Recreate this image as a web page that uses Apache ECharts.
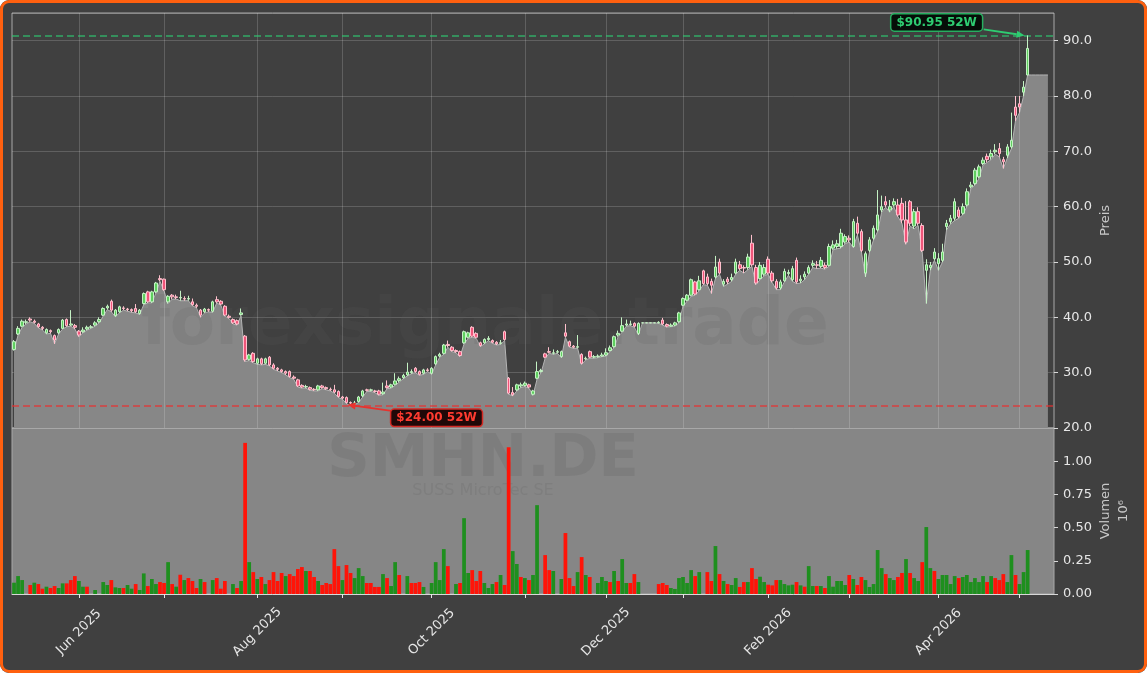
<!DOCTYPE html>
<html>
<head>
<meta charset="utf-8">
<title>SMHN.DE</title>
<script src="https://cdn.jsdelivr.net/npm/echarts@6/dist/echarts.min.js"></script>
<style>
  html, body { margin: 0; padding: 0; background: #ffffff; }
  #wrap { position: relative; width: 1147px; height: 673px; background: #404040; border-radius: 9px; overflow: hidden; }
  #main { position: absolute; left: 0; top: 0; width: 1147px; height: 673px; }
  #frame { position: absolute; left: 0; top: 0; width: 1147px; height: 673px; box-sizing: border-box;
           border: 3px solid #ff600f; border-radius: 9px; pointer-events: none; }
</style>
</head>
<body>
<div id="wrap"><div id="main"></div><div id="frame"></div></div>
<script>
// daily candles, one per Xetra trading day from 9 May 2025
var opens = [
  34.2, 37.0, 38.4, 39.1, 39.7, 39.3, 38.8, 38.2, 37.2, 37.6,
  36.7, 37.2, 38.0, 39.6, 38.6, 38.5, 37.5, 37.4, 37.9, 38.2,
  38.6, 39.2, 40.4, 41.7, 42.9, 40.3, 41.0, 41.7, 41.5, 41.4,
  41.6, 40.7, 42.5, 44.6, 42.8, 44.6, 47.0, 46.9, 42.8, 44.0,
  43.7, 43.5, 43.4, 43.3, 42.8, 42.2, 41.3, 41.0, 41.4, 41.1,
  43.2, 42.9, 42.0, 40.2, 39.6, 39.4, 40.5, 36.6, 32.4, 33.5,
  31.7, 32.5, 31.7, 32.8, 31.4, 30.8, 30.5, 30.2, 30.2, 29.2,
  28.7, 27.7, 27.4, 27.3, 27.0, 26.9, 27.6, 27.3, 27.0, 26.9,
  26.6, 25.6, 25.5, 24.6, 24.5, 24.8, 25.8, 26.9, 26.8, 26.7,
  26.7, 26.2, 27.6, 27.4, 27.9, 28.6, 29.1, 29.6, 30.0, 30.8,
  30.2, 29.9, 30.5, 29.9, 31.6, 33.0, 33.5, 35.1, 34.6, 34.0,
  33.8, 35.4, 36.4, 38.2, 37.1, 35.4, 35.4, 36.0, 35.8, 35.5,
  35.3, 37.4, 29.0, 26.4, 26.9, 27.6, 27.7, 27.8, 26.1, 29.0,
  30.2, 33.4, 33.8, 33.5, 33.7, 32.9, 37.2, 35.6, 34.8, 34.6,
  33.3, 32.5, 33.8, 32.8, 32.9, 33.0, 33.2, 34.0, 34.7, 36.8,
  37.5, 38.6, 38.7, 38.9, 37.1, 39.0, 39.0, 39.0, 39.0, 39.0,
  39.5, 38.7, 38.4, 38.6, 39.2, 42.2, 43.1, 44.0, 46.4, 45.0,
  48.4, 47.3, 46.5, 47.3, 50.0, 46.0, 46.9, 46.8, 48.0, 49.5,
  49.0, 49.0, 53.4, 49.0, 47.0, 47.8, 50.5, 48.0, 46.5, 45.3,
  46.6, 47.9, 46.8, 50.3, 46.6, 47.3, 48.0, 49.4, 49.5, 49.2,
  49.4, 49.4, 52.5, 52.8, 52.8, 53.6, 54.3, 52.8, 57.0, 55.5,
  48.0, 52.1, 54.3, 55.8, 59.4, 60.9, 59.4, 60.3, 60.3, 60.6,
  57.6, 60.9, 56.5, 59.1, 56.6, 48.5, 49.0, 50.6, 49.7, 50.3,
  56.4, 57.3, 57.9, 59.4, 58.8, 60.3, 63.6, 64.2, 65.4, 67.8,
  69.1, 69.0, 69.9, 70.5, 68.5, 69.3, 70.8, 78.0, 78.6, 80.7,
  83.8
];
var closes = [
  35.6, 38.0, 39.3, 39.2, 39.5, 39.1, 38.3, 38.0, 37.8, 37.4,
  35.9, 37.8, 39.5, 38.5, 38.8, 38.2, 36.8, 37.7, 38.2, 38.3,
  39.0, 39.6, 41.6, 42.0, 41.3, 41.3, 41.9, 41.6, 41.4, 41.2,
  41.0, 41.3, 44.3, 42.8, 44.6, 46.2, 46.8, 45.0, 43.8, 43.7,
  43.6, 43.6, 43.3, 43.4, 42.3, 42.0, 40.4, 41.5, 41.3, 42.8,
  42.8, 42.4, 40.4, 40.0, 39.0, 38.8, 40.8, 32.3, 33.2, 32.0,
  32.5, 31.6, 32.5, 31.4, 30.8, 30.6, 30.2, 29.9, 29.3, 29.0,
  27.6, 27.4, 27.5, 27.0, 26.9, 27.6, 27.3, 27.1, 26.9, 26.5,
  25.7, 25.4, 24.6, 24.5, 24.5, 25.6, 26.7, 26.8, 26.9, 26.6,
  26.1, 26.5, 27.3, 27.8, 28.5, 28.9, 29.5, 30.1, 30.2, 30.2,
  29.7, 30.5, 30.4, 30.8, 32.9, 33.3, 35.0, 34.9, 34.0, 33.8,
  33.1, 37.4, 37.2, 36.6, 36.4, 34.9, 36.0, 36.2, 35.5, 35.2,
  35.4, 36.0, 26.3, 26.0, 27.8, 27.8, 28.1, 27.4, 26.7, 30.2,
  30.4, 32.8, 33.7, 33.6, 33.8, 33.8, 36.6, 34.8, 34.6, 34.7,
  31.7, 32.6, 32.8, 32.9, 33.0, 33.2, 33.6, 34.5, 36.5, 37.1,
  38.5, 38.8, 38.8, 38.4, 38.9, 39.0, 39.0, 39.0, 39.0, 39.1,
  38.8, 38.4, 38.6, 39.0, 40.8, 43.4, 44.0, 46.8, 44.2, 46.6,
  46.1, 46.1, 45.8, 49.1, 48.0, 46.5, 46.4, 47.2, 50.0, 48.8,
  48.9, 50.9, 49.5, 46.2, 49.4, 49.0, 48.0, 46.6, 45.3, 46.4,
  48.3, 48.1, 48.8, 46.4, 46.9, 47.8, 49.0, 49.7, 49.4, 50.3,
  49.0, 52.8, 53.1, 53.3, 55.2, 54.6, 54.0, 57.3, 55.2, 52.1,
  51.5, 54.0, 56.1, 58.5, 60.0, 60.3, 60.0, 60.9, 58.5, 57.6,
  53.6, 57.0, 59.1, 57.0, 52.1, 49.5, 49.4, 51.8, 50.6, 51.8,
  57.0, 57.9, 60.9, 58.2, 60.0, 62.7, 63.9, 66.6, 67.2, 68.4,
  68.5, 69.6, 70.2, 69.6, 68.1, 70.8, 72.0, 76.5, 78.0, 81.6,
  88.6
];
var highs = [
  35.9, 38.4, 39.6, 39.6, 40.0, 39.6, 39.0, 38.4, 38.0, 37.8,
  36.9, 38.0, 39.7, 39.8, 41.3, 38.8, 37.7, 38.2, 38.5, 38.6,
  39.3, 40.0, 41.8, 42.3, 43.2, 41.5, 42.1, 42.0, 41.7, 41.6,
  42.4, 41.5, 44.5, 44.8, 44.8, 46.4, 47.6, 47.0, 44.0, 44.2,
  44.1, 44.8, 43.8, 43.9, 43.4, 42.5, 41.5, 41.7, 41.6, 43.0,
  43.8, 43.1, 42.2, 40.5, 39.8, 39.6, 41.6, 36.8, 33.4, 33.7,
  32.7, 32.7, 32.7, 33.0, 31.7, 31.0, 30.7, 30.4, 30.4, 29.5,
  28.9, 27.9, 27.8, 27.5, 27.2, 27.8, 27.8, 27.5, 27.3, 27.8,
  26.8, 25.8, 25.7, 24.8, 24.9, 25.8, 26.9, 27.1, 27.1, 26.9,
  26.9, 28.2, 28.6, 28.0, 29.9, 29.3, 29.8, 31.8, 30.6, 31.0,
  30.4, 30.7, 30.8, 31.0, 33.1, 33.6, 35.2, 35.8, 34.8, 34.2,
  34.0, 37.6, 37.4, 38.4, 37.3, 35.6, 36.2, 36.6, 36.0, 35.7,
  35.9, 37.6, 29.2, 27.4, 28.0, 28.2, 28.4, 28.0, 26.9, 32.0,
  30.7, 33.6, 34.6, 34.2, 34.1, 34.0, 38.8, 35.8, 35.0, 36.8,
  33.5, 32.9, 34.0, 33.2, 33.3, 33.6, 34.4, 34.9, 36.7, 37.6,
  40.0, 39.6, 39.4, 39.1, 39.1, 39.0, 39.0, 39.0, 39.0, 39.3,
  39.9, 38.9, 38.9, 39.2, 41.0, 43.6, 44.2, 47.0, 46.6, 47.5,
  48.6, 47.9, 47.0, 51.1, 50.6, 46.9, 47.3, 47.9, 50.6, 50.2,
  49.4, 51.5, 54.9, 49.5, 50.0, 49.6, 51.0, 48.4, 46.9, 46.8,
  48.8, 48.6, 49.3, 50.8, 47.6, 48.3, 49.4, 50.3, 50.2, 50.9,
  49.9, 53.3, 53.9, 54.0, 56.0, 55.0, 54.8, 57.8, 58.2, 55.9,
  51.9, 54.5, 56.6, 63.0, 62.0, 61.9, 61.2, 61.5, 61.4, 61.6,
  61.0, 61.2, 59.6, 59.9, 57.0, 50.5, 50.0, 52.5, 51.6, 53.3,
  57.6, 58.5, 61.5, 59.9, 60.6, 63.3, 64.5, 67.0, 67.6, 68.9,
  69.6, 70.3, 71.3, 71.5, 69.0, 71.3, 77.0, 80.0, 80.0, 82.7,
  90.95
];
var lows = [
  34.0, 36.8, 38.2, 38.8, 39.2, 38.9, 38.1, 37.7, 37.0, 37.1,
  35.2, 37.0, 37.9, 38.3, 38.4, 37.9, 36.5, 37.2, 37.7, 38.0,
  38.4, 39.0, 40.2, 41.4, 41.0, 40.1, 40.8, 41.3, 41.1, 40.9,
  40.8, 40.5, 42.3, 42.6, 42.6, 44.4, 46.5, 44.8, 42.5, 43.3,
  43.3, 43.0, 43.0, 43.0, 42.1, 41.7, 40.0, 40.8, 41.0, 40.9,
  42.6, 42.2, 40.2, 39.8, 38.8, 38.6, 40.3, 32.0, 32.2, 31.8,
  31.5, 31.4, 31.5, 31.2, 30.6, 30.3, 30.0, 29.6, 29.1, 28.8,
  27.4, 27.2, 27.2, 26.8, 26.7, 26.7, 27.1, 26.9, 26.7, 26.3,
  25.5, 25.2, 24.4, 24.0, 24.2, 24.6, 25.6, 26.6, 26.6, 26.4,
  25.9, 26.0, 27.1, 27.2, 27.7, 28.3, 28.9, 29.4, 29.8, 30.0,
  29.5, 29.7, 30.2, 29.7, 31.4, 32.8, 33.3, 34.6, 33.8, 33.6,
  32.9, 35.2, 36.2, 36.4, 36.2, 34.7, 35.2, 35.8, 35.3, 35.0,
  35.1, 35.8, 26.1, 25.8, 26.7, 27.3, 27.5, 27.2, 25.9, 28.8,
  30.0, 32.6, 33.5, 33.3, 33.5, 32.7, 36.4, 34.6, 34.4, 34.4,
  31.5, 32.3, 32.6, 32.6, 32.7, 32.9, 33.0, 33.8, 34.5, 36.5,
  37.3, 38.4, 38.5, 38.2, 36.8, 39.0, 39.0, 39.0, 39.0, 38.9,
  38.6, 38.2, 38.3, 38.4, 39.0, 42.0, 42.9, 43.8, 44.0, 44.8,
  45.9, 45.8, 44.3, 47.0, 47.8, 45.6, 46.0, 46.5, 47.8, 48.5,
  48.0, 48.6, 49.2, 45.9, 46.8, 47.5, 47.8, 46.3, 45.0, 45.0,
  46.4, 47.6, 46.5, 46.1, 46.2, 46.8, 47.8, 49.0, 48.8, 48.9,
  48.7, 49.2, 52.2, 52.4, 52.5, 53.3, 53.6, 52.6, 54.9, 51.8,
  47.3, 51.8, 54.0, 55.5, 59.0, 59.9, 59.0, 60.0, 58.2, 57.0,
  53.2, 56.5, 56.0, 56.6, 51.8, 42.5, 48.5, 50.3, 48.5, 50.0,
  55.8, 56.9, 57.5, 57.9, 58.5, 60.0, 63.3, 63.9, 65.1, 67.5,
  68.0, 68.5, 69.5, 69.0, 66.9, 68.8, 70.5, 75.5, 77.0, 80.0,
  83.8
];
// volume in millions of shares, and whether the bar is drawn green (1) or red (0)
var volumes = [
  0.085, 0.135, 0.105, 0, 0.068, 0.085, 0.075, 0.040, 0.055, 0.045,
  0.060, 0.045, 0.080, 0.080, 0.105, 0.135, 0.098, 0.055, 0.055, 0,
  0.030, 0, 0.090, 0.068, 0.105, 0.050, 0.045, 0.045, 0.068, 0.040,
  0.075, 0.030, 0.155, 0.060, 0.113, 0.075, 0.090, 0.083, 0.240, 0.075,
  0.055, 0.145, 0.105, 0.120, 0.098, 0.045, 0.113, 0.090, 0, 0.105,
  0.120, 0.040, 0.098, 0, 0.075, 0.045, 0.098, 1.138, 0.240, 0.165,
  0.113, 0.128, 0.075, 0.105, 0.165, 0.098, 0.158, 0.135, 0.150, 0.135,
  0.188, 0.203, 0.173, 0.173, 0.128, 0.098, 0.068, 0.083, 0.075, 0.338,
  0.210, 0.105, 0.218, 0.158, 0.120, 0.195, 0.135, 0.083, 0.083, 0.053,
  0.053, 0.150, 0.120, 0.060, 0.240, 0.143, 0, 0.135, 0.083, 0.083,
  0.090, 0.053, 0, 0.083, 0.240, 0.105, 0.338, 0.210, 0, 0.075,
  0.083, 0.571, 0.158, 0.180, 0.098, 0.173, 0.083, 0.045, 0.075, 0.090,
  0.143, 0.068, 1.105, 0.323, 0.226, 0.128, 0.120, 0.105, 0.143, 0.669,
  0, 0.293, 0.180, 0.173, 0, 0.113, 0.459, 0.120, 0.060, 0.165,
  0.278, 0.143, 0.128, 0, 0.083, 0.128, 0.098, 0.090, 0.173, 0.098,
  0.263, 0.083, 0.083, 0.150, 0.090, 0, 0, 0, 0, 0.075,
  0.083, 0.068, 0.045, 0.038, 0.120, 0.128, 0.083, 0.180, 0.135, 0.165,
  0, 0.165, 0.098, 0.361, 0.150, 0.098, 0.075, 0.068, 0.120, 0.053,
  0.090, 0.090, 0.195, 0.113, 0.130, 0.090, 0.070, 0.065, 0.105, 0.105,
  0.075, 0.065, 0.070, 0.090, 0.065, 0.055, 0.210, 0.060, 0.060, 0.060,
  0.045, 0.135, 0.055, 0.098, 0.098, 0.068, 0.143, 0.113, 0.068, 0.128,
  0.105, 0.053, 0.075, 0.331, 0.195, 0.150, 0.120, 0.105, 0.128, 0.158,
  0.263, 0.158, 0.120, 0.098, 0.240, 0.504, 0.195, 0.173, 0.113, 0.143,
  0.143, 0.075, 0.135, 0.120, 0.128, 0.143, 0.090, 0.120, 0.090, 0.135,
  0.090, 0.135, 0.120, 0.105, 0.150, 0.090, 0.293, 0.143, 0.075, 0.165,
  0.331
];
var volUp = [
  1, 1, 1, 1, 0, 1, 0, 0, 1, 0,
  0, 1, 1, 0, 0, 0, 1, 1, 0, 1,
  1, 1, 1, 1, 0, 1, 1, 0, 1, 1,
  0, 1, 1, 0, 1, 1, 0, 0, 1, 0,
  1, 0, 1, 0, 0, 0, 1, 0, 1, 1,
  0, 0, 0, 1, 1, 0, 1, 0, 1, 0,
  1, 0, 1, 0, 0, 0, 0, 1, 0, 0,
  0, 0, 1, 0, 0, 1, 0, 0, 0, 0,
  0, 1, 0, 0, 1, 1, 1, 0, 0, 0,
  0, 1, 0, 1, 1, 0, 1, 1, 0, 0,
  0, 1, 1, 1, 1, 1, 1, 0, 1, 1,
  0, 1, 1, 0, 0, 0, 1, 1, 1, 0,
  1, 0, 0, 1, 1, 0, 1, 0, 1, 1,
  1, 0, 0, 1, 1, 1, 0, 0, 0, 1,
  0, 1, 0, 1, 1, 1, 1, 0, 1, 0,
  1, 1, 0, 0, 1, 1, 1, 1, 1, 0,
  0, 0, 1, 1, 1, 1, 1, 1, 0, 1,
  1, 0, 0, 1, 0, 1, 0, 1, 1, 0,
  0, 1, 0, 0, 1, 1, 0, 0, 0, 1,
  1, 1, 1, 0, 1, 0, 1, 1, 0, 1,
  0, 1, 1, 1, 1, 1, 0, 1, 0, 0,
  1, 1, 1, 1, 1, 0, 1, 1, 0, 0,
  1, 0, 1, 1, 0, 1, 1, 0, 1, 1,
  1, 1, 1, 0, 1, 1, 1, 1, 1, 1,
  0, 1, 0, 0, 0, 1, 1, 0, 1, 1,
  1
];
// the shaded area keeps the last level for a few more sessions
var tailFill = [83.8, 83.8, 83.8, 83.8, 83.8];

var yearHigh = 90.95, highIdx = 250;
var yearLow = 24.00, lowIdx = 83;

var priceMin = 20, priceMax = 95, priceStep = 10;
var volMin = 0, volMax = 1.25, volStep = 0.25;

var firstDay = Date.UTC(2025, 4, 9);
var closedDays = ['2025-12-24', '2025-12-25', '2025-12-26', '2025-12-31', '2026-01-01',
                  '2026-04-03', '2026-04-06', '2026-05-01'];
var monthNames = ['Jan', 'Feb', 'Mar', 'Apr', 'May', 'Jun', 'Jul', 'Aug', 'Sep', 'Oct', 'Nov', 'Dec'];

// trading calendar (weekdays minus exchange holidays)
var dates = [];
var total = opens.length + tailFill.length + 1;
var d = new Date(firstDay);
while (dates.length < total) {
  var s = d.toISOString().slice(0, 10);
  var wd = d.getUTCDay();
  if (wd !== 0 && wd !== 6 && closedDays.indexOf(s) < 0) dates.push(s);
  d.setUTCDate(d.getUTCDate() + 1);
}
function monthStart(i) {
  return i > 0 && dates[i].slice(5, 7) !== dates[i - 1].slice(5, 7);
}
function labelMonth(i) {
  return monthStart(i) && (+dates[i].slice(5, 7)) % 2 === 0;
}
var monthLines = [];
for (var m = 0; m < dates.length; m++) {
  if (monthStart(m)) monthLines.push({ xAxis: dates[m] });
}

var candles = opens.map(function (o, i) { return [o, closes[i], lows[i], highs[i]]; });
var fillLine = lows.concat(tailFill);
var volData = volumes.map(function (v, i) {
  return { value: v, itemStyle: { color: volUp[i] ? '#1e8f1e' : '#ff1408' } };
});

var gridColor = 'rgba(255,255,255,0.17)';
var font = 'DejaVu Sans';

var chart = echarts.init(document.getElementById('main'), null, { renderer: 'canvas' });

var option = {
  backgroundColor: 'transparent',
  animation: false,
  textStyle: { fontFamily: font },
  grid: [
    { left: 12, right: 93, top: 13, height: 415, show: true, backgroundColor: '#404040',
      borderColor: '#a8a8a8', borderWidth: 1, containLabel: false, outerBoundsMode: 'none' },
    { left: 12, right: 93, top: 428, height: 166, show: true, backgroundColor: '#868686',
      borderColor: '#a8a8a8', borderWidth: 1, containLabel: false, outerBoundsMode: 'none' }
  ],
  xAxis: [
    { type: 'category', gridIndex: 0, data: dates, boundaryGap: true,
      axisLine: { show: false }, axisTick: { show: false }, axisLabel: { show: false },
      splitLine: { show: false } },
    { type: 'category', gridIndex: 1, data: dates, boundaryGap: true,
      axisLine: { show: true, lineStyle: { color: '#d8d8d8', width: 1 } },
      axisTick: { show: true, alignWithLabel: true, length: 4,
                  interval: function (i) { return monthStart(i); },
                  lineStyle: { color: '#e6e6e6' } },
      axisLabel: { show: true, rotate: 45, align: 'center', verticalAlign: 'middle', margin: 38,
                   color: '#e6e6e6', fontSize: 13, fontFamily: font,
                   interval: function (i) { return labelMonth(i); },
                   formatter: function (v) { return monthNames[+v.slice(5, 7) - 1] + ' ' + v.slice(0, 4); } },
      splitLine: { show: false } }
  ],
  yAxis: [
    { type: 'value', gridIndex: 0, position: 'right', min: priceMin, max: priceMax, interval: priceStep,
      name: 'Preis', nameLocation: 'middle', nameGap: 45, nameRotate: 90, nameMoveOverlap: false,
      nameTextStyle: { color: '#c8c8c8', fontSize: 13, fontFamily: font },
      axisLine: { show: false },
      axisTick: { show: true, length: 4, lineStyle: { color: '#d8d8d8' } },
      axisLabel: { color: '#e6e6e6', fontSize: 13, margin: 9, showMaxLabel: false, fontFamily: font,
                   formatter: function (v) { return v.toFixed(1); } },
      splitLine: { show: true, lineStyle: { color: gridColor, width: 1 } } },
    { type: 'value', gridIndex: 1, position: 'right', min: volMin, max: volMax, interval: volStep,
      name: 'Volumen\n10\u2076', nameLocation: 'middle', nameGap: 43, nameRotate: 90, nameMoveOverlap: false,
      nameTextStyle: { color: '#c8c8c8', fontSize: 13, lineHeight: 18, fontFamily: font },
      axisLine: { show: false },
      axisTick: { show: true, length: 4, lineStyle: { color: '#d8d8d8' } },
      axisLabel: { color: '#e6e6e6', fontSize: 13, margin: 9, showMaxLabel: false, fontFamily: font,
                   formatter: function (v) { return v.toFixed(2); } },
      splitLine: { show: false } }
  ],
  series: [
    // month grid lines, kept under the shaded area
    { type: 'line', xAxisIndex: 0, yAxisIndex: 0, data: [], z: 1, silent: true,
      markLine: { symbol: 'none', silent: true, label: { show: false },
                  lineStyle: { color: gridColor, type: 'solid', width: 1 }, data: monthLines } },
    { type: 'line', xAxisIndex: 0, yAxisIndex: 0, data: fillLine, z: 2, silent: true,
      symbol: 'none', showSymbol: false,
      lineStyle: { color: '#b4b4b4', width: 1 },
      areaStyle: { color: '#878787', opacity: 1, origin: 'start' } },
    { type: 'candlestick', xAxisIndex: 0, yAxisIndex: 0, data: candles, barWidth: 3, z: 5,
      itemStyle: { color: '#5fcf5f', color0: '#f0557a', borderColor: '#c4f2c4', borderColor0: '#ffc0cd', borderWidth: 1 },
      markLine: { symbol: 'none', silent: true, label: { show: false },
        data: [
          { yAxis: yearHigh, lineStyle: { color: 'rgba(46,204,113,0.75)', type: [7, 4], width: 1.5 } },
          { yAxis: yearLow, lineStyle: { color: 'rgba(235,45,45,0.8)', type: [7, 4], width: 1.5 } }
        ] } },
    { type: 'bar', xAxisIndex: 1, yAxisIndex: 1, data: volData, barWidth: '92%', z: 5 }
  ],
  graphic: [
    { type: 'text', z: 3, silent: true,
      style: { text: 'forexsignale.trade', x: 485, y: 327, align: 'center', verticalAlign: 'middle',
               font: 'bold 66px "DejaVu Sans"', fill: 'rgba(95,95,95,0.16)' } },
    { type: 'text', z: 3, silent: true,
      style: { text: 'SMHN.DE', x: 483, y: 461, align: 'center', verticalAlign: 'middle',
               font: 'bold 59px "DejaVu Sans"', fill: 'rgba(70,70,70,0.13)' } },
    { type: 'text', z: 3, silent: true,
      style: { text: 'SUSS MicroTec SE', x: 483, y: 491, align: 'center', verticalAlign: 'middle',
               font: '16px "DejaVu Sans"', fill: 'rgba(70,70,70,0.12)' } }
  ]
};
chart.setOption(option);

// 52-week markers: boxes and arrows placed from the axis scales
function arrow(x1, y1, x2, y2, color) {
  var ang = Math.atan2(y2 - y1, x2 - x1), len = 8, wid = 3.5;
  var bx = x2 - len * Math.cos(ang), by = y2 - len * Math.sin(ang);
  return [
    { type: 'line', z: 20, silent: true,
      shape: { x1: x1, y1: y1, x2: bx, y2: by }, style: { stroke: color, lineWidth: 1.8 } },
    { type: 'polygon', z: 20, silent: true,
      shape: { points: [[x2, y2],
                        [bx + wid * Math.sin(ang), by - wid * Math.cos(ang)],
                        [bx - wid * Math.sin(ang), by + wid * Math.cos(ang)]] },
      style: { fill: color } }
  ];
}
var pH = chart.convertToPixel({ xAxisIndex: 0, yAxisIndex: 0 }, [dates[highIdx], yearHigh]);
var pL = chart.convertToPixel({ xAxisIndex: 0, yAxisIndex: 0 }, [dates[lowIdx], yearLow]);
var extra = [];
extra = extra.concat(arrow(pH[0] - 44, pH[1] - 6, pH[0] - 3, pH[1], '#2ecc71'));
extra = extra.concat(arrow(pL[0] + 41, pL[1] + 5, pL[0] - 3, pL[1] - 1, '#e8322e'));
extra.push({ type: 'text', z: 21, silent: true,
  style: { text: '$' + yearHigh.toFixed(2) + ' 52W', x: pH[0] - 91, y: pH[1] - 13, align: 'center', verticalAlign: 'middle',
           font: 'bold 12px "DejaVu Sans"', fill: '#2ecc71', backgroundColor: '#060d08',
           borderColor: '#27ae60', borderWidth: 1.5, borderRadius: 3, padding: [2, 5, 2, 5] } });
extra.push({ type: 'text', z: 21, silent: true,
  style: { text: '$' + yearLow.toFixed(2) + ' 52W', x: pL[0] + 86, y: pL[1] + 12, align: 'center', verticalAlign: 'middle',
           font: 'bold 12px "DejaVu Sans"', fill: '#ff3b30', backgroundColor: '#200808',
           borderColor: '#d42a24', borderWidth: 1.5, borderRadius: 3, padding: [2, 5, 2, 5] } });

chart.setOption({ graphic: option.graphic.concat(extra) });
</script>
</body>
</html>
